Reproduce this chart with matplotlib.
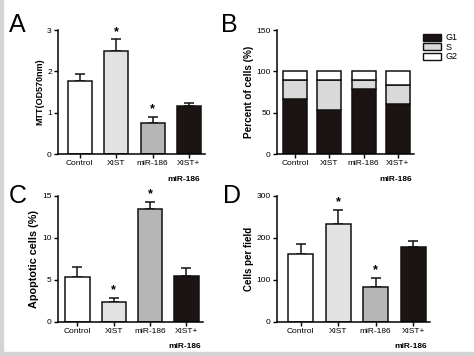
import numpy as np
import matplotlib
matplotlib.use("Agg")
import matplotlib.pyplot as plt
from matplotlib.patches import Patch, Rectangle

plt.rcParams['font.family'] = ['Liberation Sans', 'DejaVu Sans']

groups = ['Control', 'XIST', 'miR-186', 'XIST+']
bar_colors = ['#ffffff', '#e2e2e2', '#b6b6b6', '#1c1412']

# A: MTT
mtt = [1.76, 2.49, 0.76, 1.17]
mtt_err = [0.17, 0.29, 0.14, 0.07]
mtt_star = [False, True, True, False]

# B: cell cycle (%)
g1 = [66, 53, 79, 61]
s_phase = [23, 36, 10, 23]
g2 = [11, 11, 11, 16]

# C: apoptosis (%)
apop = [5.3, 2.4, 13.5, 5.5]
apop_err = [1.3, 0.5, 0.8, 0.9]
apop_star = [False, True, True, False]

# D: migration
cells = [161, 234, 84, 179]
cells_err = [24, 33, 21, 14]
cells_star = [False, True, True, False]

W, H = 474, 356
fig = plt.figure(figsize=(W / 100, H / 100), dpi=100)
fig.patches.append(Rectangle((0, 0), 3 / W, 1, transform=fig.transFigure, color='#d4d4d4', zorder=0))
fig.patches.append(Rectangle((0, 0), 1, 4 / H, transform=fig.transFigure, color='#d4d4d4', zorder=0))


def make_ax(l, t, r, b):
    ax = fig.add_axes([l / W, 1 - b / H, (r - l) / W, (b - t) / H])
    for sp in ['top', 'right']:
        ax.spines[sp].set_visible(False)
    for sp in ['left', 'bottom']:
        ax.spines[sp].set_linewidth(1.1)
    ax.tick_params(width=1.0, length=3, labelsize=6, pad=1.5)
    ax.set_xticks(range(4))
    ax.set_xticklabels(groups)
    return ax


def second_line(ax, dx, dy):
    ax.annotate('miR-186', xy=(3, 0), xycoords=('data', 'axes fraction'),
                xytext=(dx, dy), textcoords='offset pixels',
                ha='center', va='center', fontsize=6, fontweight='bold')


def bar_panel(ax, vals, errs, stars, width, ylim, ystep, ylabel, lsize):
    x = np.arange(4)
    ax.bar(x, vals, width=width, color=bar_colors, edgecolor='#111111', linewidth=1.1, zorder=2)
    ax.errorbar(x, vals, yerr=[np.zeros(4), errs], fmt='none', ecolor='#111111',
                elinewidth=1.1, capsize=3.5, capthick=1.1, zorder=1)
    for xi, v, e, st in zip(x, vals, errs, stars):
        if st:
            ax.text(xi, v + e + ylim * 0.01, '*', ha='center', va='bottom', fontsize=9, fontweight='bold')
    ax.set_ylim(0, ylim)
    ax.set_yticks(np.arange(0, ylim + 0.01, ystep))
    ax.set_ylabel(ylabel, fontsize=lsize, fontweight='bold', labelpad=2)


# Panel A
axA = make_ax(58, 30, 205, 154)
axA.set_xlim(-0.6, 3.44)
bar_panel(axA, mtt, mtt_err, mtt_star, 0.66, 3, 1, 'MTT(OD570nm)', 6.5)
second_line(axA, -5, -25)

# Panel B
axB = make_ax(277, 30, 414, 154)
axB.set_xlim(-0.525, 3.47)
xb = np.arange(4)
axB.bar(xb, g1, width=0.7, color='#1c1412', edgecolor='#111111', linewidth=1.1)
axB.bar(xb, s_phase, bottom=g1, width=0.7, color='#d9d9d9', edgecolor='#111111', linewidth=1.1)
axB.bar(xb, g2, bottom=np.array(g1) + np.array(s_phase), width=0.7, color='#ffffff',
        edgecolor='#111111', linewidth=1.1)
axB.set_ylim(0, 150)
axB.set_yticks([0, 50, 100, 150])
axB.set_ylabel('Percent of cells (%)', fontsize=7.2, fontweight='bold', labelpad=2)
second_line(axB, -2, -25)
handles = [Patch(facecolor='#1c1412', edgecolor='#111111', linewidth=1.0, label='G1'),
           Patch(facecolor='#d9d9d9', edgecolor='#111111', linewidth=1.0, label='S'),
           Patch(facecolor='#ffffff', edgecolor='#111111', linewidth=1.0, label='G2')]
fig.legend(handles=handles, loc='upper left', bbox_to_anchor=(417 / W, 1 - 27 / H),
           frameon=False, fontsize=6.5, handlelength=2.0, handleheight=0.8,
           labelspacing=0.05, handletextpad=0.5, borderpad=0.2)

# Panel C
axC = make_ax(58, 196, 203, 322)
axC.set_xlim(-0.537, 3.46)
bar_panel(axC, apop, apop_err, apop_star, 0.675, 15, 5, 'Apoptotic cells (%)', 7.8)
second_line(axC, -2, -24)

# Panel D
axD = make_ax(277, 196, 430, 322)
axD.set_xlim(-0.627, 3.45)
bar_panel(axD, cells, cells_err, cells_star, 0.667, 300, 100, 'Cells per field', 7)
second_line(axD, -2, -24)

# panel letters
for lab, px, py in [('A', 9, 32), ('B', 221, 32), ('C', 9, 203), ('D', 223, 203)]:
    fig.text(px / W, 1 - py / H, lab, fontsize=18, ha='left', va='baseline')

fig.savefig('out.png', dpi=100)
